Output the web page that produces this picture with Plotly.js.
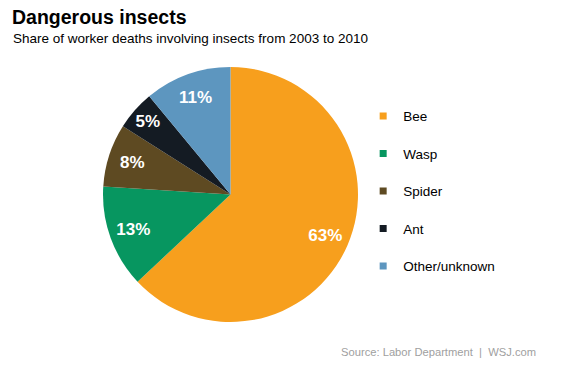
<!DOCTYPE html>
<html>
<head>
<meta charset="utf-8">
<script src="https://cdn.plot.ly/plotly-3.0.1.min.js"></script>
<style>html,body{margin:0;padding:0;background:#fff;}#chart{width:562px;height:370px;}</style>
</head>
<body>
<div id="chart"></div>
<script>
var categories = ["Bee", "Wasp", "Spider", "Ant", "Other/unknown"];
var shares = [63, 13, 8, 5, 11];
var colors = ["#F79F1D", "#079660", "#5E4A22", "#141B23", "#5D96BF"];

var FONT = "Liberation Sans, Arial, sans-serif";
var DOMAIN = {x: [0.1833, 0.6370], y: [0.1297, 0.8189]};

var traces = [{
  type: "pie",
  labels: categories,
  values: shares,
  sort: false,
  direction: "clockwise",
  rotation: 0,
  marker: {colors: colors, line: {width: 0}},
  textinfo: "none",
  hoverinfo: "label+percent",
  showlegend: false,
  domain: DOMAIN
}, {
  // transparent ring carrying the percentage labels (placed near the rim)
  type: "pie",
  labels: categories,
  values: shares,
  sort: false,
  direction: "clockwise",
  rotation: 0,
  hole: 0.62,
  marker: {colors: categories.map(function () { return "rgba(0,0,0,0)"; }), line: {width: 0}},
  texttemplate: "%{value}%",
  textposition: "inside",
  insidetextorientation: "horizontal",
  textfont: {family: FONT, size: 17, color: "#ffffff", weight: "bold"},
  hoverinfo: "skip",
  showlegend: false,
  domain: DOMAIN
}];

categories.forEach(function (c, i) {
  traces.push({
    type: "scatter",
    mode: "markers",
    x: [null], y: [null],
    name: c,
    legendgroup: "g" + i,
    marker: {symbol: "square", size: 7, color: colors[i]},
    hoverinfo: "skip"
  });
});

var layout = {
  width: 562, height: 370,
  margin: {l: 0, r: 0, t: 0, b: 0},
  paper_bgcolor: "#ffffff",
  plot_bgcolor: "#ffffff",
  font: {family: FONT, color: "#000000"},
  xaxis: {visible: false},
  yaxis: {visible: false},
  showlegend: true,
  legend: {
    x: 0.6462, xanchor: "left",
    y: 0.728, yanchor: "top",
    traceorder: "grouped",
    tracegroupgap: 17,
    font: {family: FONT, size: 13.5, color: "#000000"},
    bgcolor: "rgba(0,0,0,0)"
  },
  annotations: [
    {text: "<b>Dangerous insects</b>", xref: "paper", yref: "paper", x: 10/562, y: 1 - 17/370,
     xanchor: "left", yanchor: "middle", showarrow: false, font: {family: FONT, size: 19.5, color: "#000"}},
    {text: "Share of worker deaths involving insects from 2003 to 2010", xref: "paper", yref: "paper",
     x: 11/562, y: 1 - 38/370, xanchor: "left", yanchor: "middle", showarrow: false,
     font: {family: FONT, size: 13.5, color: "#000"}},
    {text: "Source: Labor Department  |  WSJ.com", xref: "paper", yref: "paper",
     x: 538/562, y: 1 - 352/370, xanchor: "right", yanchor: "middle", showarrow: false,
     font: {family: FONT, size: 11.2, color: "#a0a0a0"}}
  ]
};

Plotly.newPlot("chart", traces, layout, {displayModeBar: false, staticPlot: true});
</script>
</body>
</html>
